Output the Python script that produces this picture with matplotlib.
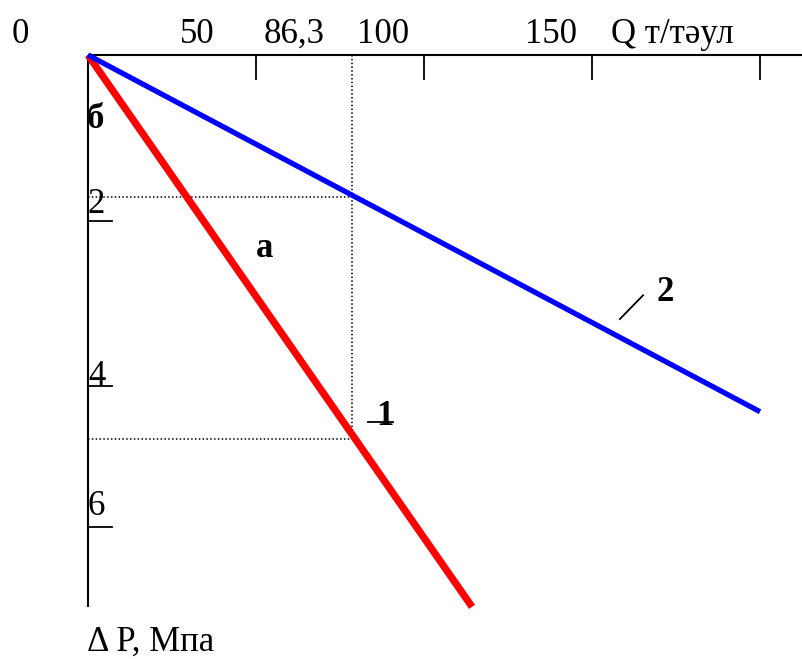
import matplotlib.pyplot as plt

plt.rcParams['font.family'] = ['Liberation Serif', 'DejaVu Serif']

# line ends: Q (t/day) and pressure drop (MPa)
q_line1 = [0, 114.3]
dp_line1 = [0, 6.73]
q_line2 = [0, 200.0]
dp_line2 = [0, 4.35]

# operating point guides
q_op = 78.6
dp_guides = [1.73, 4.68]

# axis ticks
q_ticks = [50, 100, 150, 200]
dp_ticks = [2.02, 4.04, 5.76]
dp_tick_labels = ['2', '4', '6']
dp_label_pos = [1.93, 4.02, 5.61]

# top labels (not aligned with ticks in the original)
top_labels = ['0', '50', '86,3', '100', '150', 'Q т/тәул']
top_label_pos = [-20.2, 32.4, 61.3, 87.8, 137.8, 173.8]

fig = plt.figure(figsize=(8.02, 6.59), dpi=100)
ax = fig.add_axes([0, 0, 1, 1])
ax.set_xlim(-26.19, 212.5)
ax.set_ylim(7.366, -0.671)
ax.axis('off')

fs = 25

# axes
ax.plot([0, 212.5], [0, 0], color='black', lw=1.5, solid_capstyle='butt')
ax.plot([0, 0], [0, 6.73], color='black', lw=1.5, solid_capstyle='butt')
for q in q_ticks:
    ax.plot([q, q], [0, 0.29], color='black', lw=1.3)
for p in dp_ticks:
    ax.plot([0, 7.1], [p, p], color='black', lw=1.3)

# dotted guides
ax.plot([q_op, q_op], [0, dp_guides[1]], color='black', lw=1.1, ls=(0, (1, 1.5)))
for p in dp_guides:
    ax.plot([0, q_op], [p, p], color='black', lw=1.1, ls=(0, (1, 1.5)))

# characteristic lines
ax.plot(q_line1, dp_line1, color='red', lw=5.2, solid_capstyle='butt', zorder=3)
ax.plot(q_line2, dp_line2, color='blue', lw=3.8, solid_capstyle='butt', zorder=3)

# labels
for lab, q in zip(top_labels, top_label_pos):
    ax.text(q, -0.146, lab, fontsize=fs, ha='center', va='baseline')
for lab, p in zip(dp_tick_labels, dp_label_pos):
    ax.text(0, p, lab, fontsize=fs, ha='left', va='baseline')

ax.text(2.1, 0.89, 'б', fontsize=fs, fontweight='bold', ha='center', va='baseline')
ax.text(52.4, 2.46, 'а', fontsize=fs, fontweight='bold', ha='center', va='baseline')
ax.text(171.7, 3.0, '2', fontsize=fs, fontweight='bold', ha='center', va='baseline')
ax.plot([158.3, 165.2], [3.22, 2.93], color='black', lw=1.3)
ax.text(88.4, 4.51, '1', fontsize=fs, fontweight='bold', ha='center', va='baseline')
ax.plot([83.3, 90.8], [4.48, 4.48], color='black', lw=1.3)

ax.text(-0.3, 7.27, 'Δ P, Мпа', fontsize=fs, ha='left', va='baseline')

fig.savefig('out.png', dpi=100)
